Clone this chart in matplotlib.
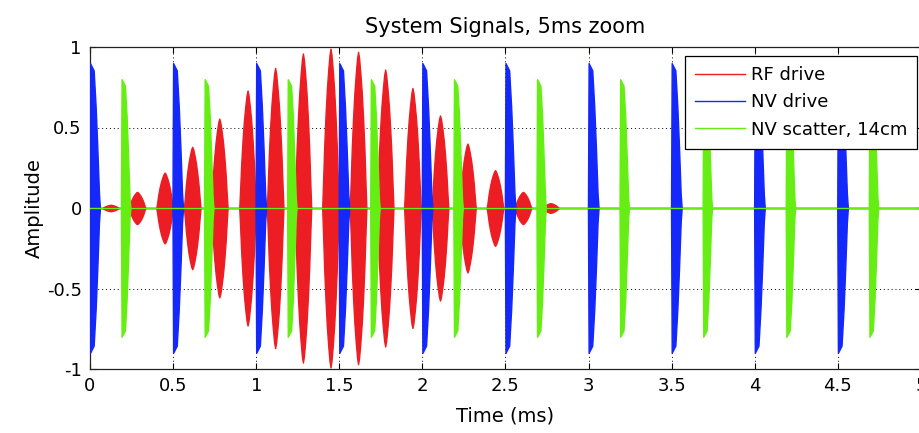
import matplotlib
matplotlib.use("Agg")
import matplotlib.pyplot as plt
import numpy as np

# ---- data ----
# RF drive bursts: centre time (ms) and peak amplitude
rf_centers = [0.124, 0.283, 0.449, 0.615, 0.778, 0.948, 1.114, 1.281, 1.447,
              1.613, 1.776, 1.940, 2.106, 2.271, 2.437, 2.605, 2.771]
rf_amps = [0.02, 0.10, 0.22, 0.38, 0.555, 0.73, 0.87, 0.96, 0.99,
           0.97, 0.86, 0.745, 0.575, 0.40, 0.235, 0.10, 0.03]
# RF burst envelope (offset from centre in ms, relative amplitude)
rf_env_t = [-0.050, -0.045, -0.038, -0.030, -0.022, -0.014, -0.006, 0.0,
            0.006, 0.014, 0.022, 0.030, 0.038, 0.045, 0.050]
rf_env_a = [0.0, 0.15, 0.38, 0.58, 0.74, 0.86, 0.96, 1.0,
            0.96, 0.86, 0.74, 0.58, 0.38, 0.15, 0.0]

# NV drive pulses: start time (ms) and peak amplitude
nv_starts = [0.0, 0.5, 1.0, 1.5, 2.0, 2.5, 3.0, 3.5, 4.0, 4.5]
nv_amps = [0.9, 0.9, 0.9, 0.9, 0.9, 0.9, 0.9, 0.9, 0.9, 0.9]
nv_env_t = [-0.004, 0.0, 0.022, 0.034, 0.044, 0.054, 0.060]
nv_env_a = [0.0, 1.0, 0.95, 0.7, 0.42, 0.1, 0.0]

# NV scatter (14 cm) pulses
sc_starts = [0.19, 0.69, 1.19, 1.69, 2.19, 2.69, 3.19, 3.69, 4.19, 4.69]
sc_amps = [0.8, 0.8, 0.8, 0.8, 0.8, 0.8, 0.8, 0.8, 0.8, 0.8]
sc_env_t = [-0.004, 0.0, 0.020, 0.030, 0.038, 0.048, 0.053]
sc_env_a = [0.0, 1.0, 0.95, 0.72, 0.45, 0.08, 0.0]

x_ticks = [0, 0.5, 1, 1.5, 2, 2.5, 3, 3.5, 4, 4.5, 5]
x_tick_labels = ['0', '0.5', '1', '1.5', '2', '2.5', '3', '3.5', '4', '4.5', '5']
y_ticks = [-1, -0.5, 0, 0.5, 1]
y_tick_labels = ['-1', '-0.5', '0', '0.5', '1']

series_labels = ['RF drive', 'NV drive', 'NV scatter, 14cm']
RED = '#EC1E24'
BLUE = '#1428FA'
GREEN = '#66EE14'

plt.rcParams['font.family'] = ['DejaVu Sans']

fig = plt.figure(figsize=(9.2, 4.33), dpi=100)
ax = fig.add_axes([90 / 920, 64 / 433, 831 / 920, 322 / 433])


def draw_bursts(anchors, amps, env_t, env_a, color, z):
    et = np.asarray(env_t)
    ea = np.asarray(env_a)
    for t0, a in zip(anchors, amps):
        ax.fill_between(t0 + et, -a * ea, a * ea, color=color, lw=1.0,
                        edgecolor=color, zorder=z)


draw_bursts(rf_centers, rf_amps, rf_env_t, rf_env_a, RED, 2)
ax.axhline(0, color=RED, lw=1.0, zorder=2.1, label=series_labels[0])
draw_bursts(nv_starts, nv_amps, nv_env_t, nv_env_a, BLUE, 3)
ax.axhline(0, color=BLUE, lw=1.0, zorder=3.1, label=series_labels[1])
draw_bursts(sc_starts, sc_amps, sc_env_t, sc_env_a, GREEN, 4)
ax.axhline(0, color=GREEN, lw=1.0, zorder=4.1, label=series_labels[2])

ax.set_xlim(0, 5)
ax.set_ylim(-1, 1)
ax.set_xticks(x_ticks)
ax.set_xticklabels(x_tick_labels)
ax.set_yticks(y_ticks)
ax.set_yticklabels(y_tick_labels)
ax.tick_params(direction='in', top=True, right=True, length=4, width=0.8,
               labelsize=13, pad=6)
ax.grid(True, color='black', linestyle=(0, (1, 3)), linewidth=0.7)
ax.set_axisbelow(True)
for s in ax.spines.values():
    s.set_linewidth(0.9)
    s.set_color('#222222')

ax.set_title('System Signals, 5ms zoom', fontsize=15, pad=10)
ax.set_xlabel('Time (ms)', fontsize=14, labelpad=8)
ax.set_ylabel('Amplitude', fontsize=14, labelpad=2)

leg = ax.legend(loc='upper right', bbox_to_anchor=(0.995, 0.972),
                borderaxespad=0, fontsize=13, handlelength=2.8,
                handletextpad=0.3, labelspacing=0.52, borderpad=0.55,
                fancybox=False, framealpha=1, edgecolor='black')
leg.get_frame().set_linewidth(0.9)
leg.set_zorder(10)

fig.savefig('out.png', dpi=100)
